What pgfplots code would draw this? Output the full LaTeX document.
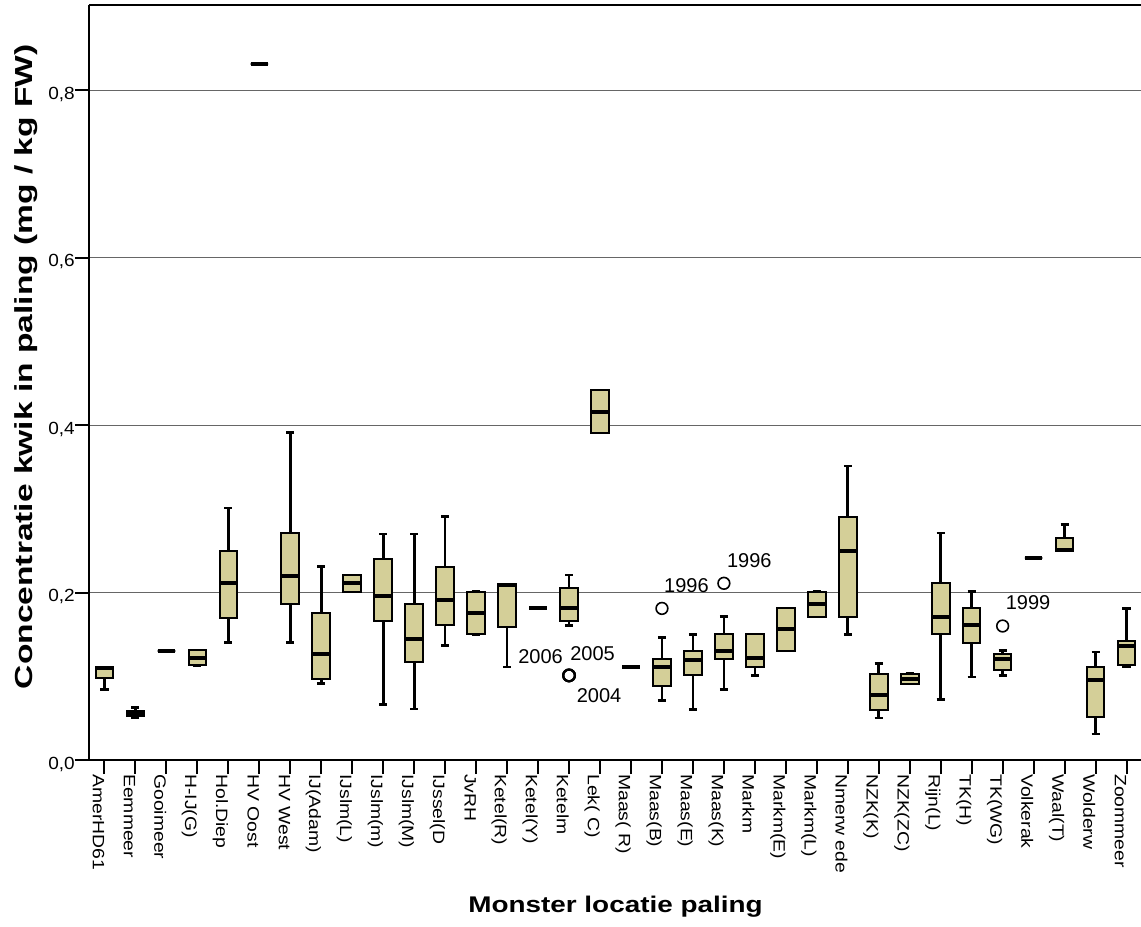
\documentclass[border=0pt]{standalone}
\usepackage{pgfplots}
\pgfplotsset{compat=1.18}
\usepgfplotslibrary{statistics}
\usepackage{fontspec}
\setmainfont{Liberation Sans}
\newfontfamily\yticksfont{Liberation Sans}[FakeStretch=1.08]
\newfontfamily\xticksfont{Liberation Sans}[FakeStretch=1.18]
\newfontfamily\ylabfont{Liberation Sans}[FakeStretch=1.36]
\newfontfamily\xlabfont{Liberation Sans}[FakeStretch=1.23]
\newfontfamily\annfont{Liberation Sans}
\definecolor{boxfill}{RGB}{212,207,152}

\begin{document}
\begin{tikzpicture}
\begin{axis}[
  at={(0,0)}, anchor=south west,
  scale only axis, width=789.75pt, height=566.25pt,
  xmin=-0.5, xmax=33.5, ymin=0, ymax=0.9015,
  clip=false,
  axis x line=bottom, axis y line=left,
  axis line style={-, line width=1.5pt, black},
  tick align=outside, major tick length=10.5pt,
  tick style={black, line width=1.5pt},
  ytick={0,0.2,0.4,0.6,0.8},
  ymajorgrids, major grid style={black!60, line width=0.75pt},
  yticklabel style={font=\yticksfont\fontsize{13.2}{14}\selectfont, anchor=east, inner sep=0pt, yshift=-3pt,
    /pgf/number format/.cd, fixed, fixed zerofill, precision=1, use comma, assume math mode=true},
  xtick={0,...,33},
  xticklabels={{AmerHD61},{Eemmeer},{Gooimeer},{H-IJ(G)},{Hol.Diep},{HV Oost},{HV West},{IJ(Adam)},{IJslm(L)},{IJslm(m)},{IJslm(M)},{IJssel(D},{JvRH},{Ketel(R)},{Ketel(Y)},{Ketelm},{Lek( C)},{Maas( R)},{Maas(B)},{Maas(E)},{Maas(K)},{Markm},{Markm(E)},{Markm(L)},{Nmerw ede},{NZK(K)},{NZK(ZC)},{Rijn(L)},{TK(H)},{TK(WG)},{Volkerak},{Waal(T)},{Wolderw},{Zoommeer}},
  xticklabel style={font=\xticksfont\fontsize{12.3}{13}\selectfont, rotate=-90, anchor=north west, inner sep=0pt},
  xlabel={Monster locatie paling},
  ylabel={Concentratie kwik in paling (mg / kg FW)},
  every axis x label/.style={at={(rel axis cs:0.5,0)}, anchor=base, yshift=-114pt, font=\xlabfont\bfseries\fontsize{17}{18}\selectfont},
  every axis y label/.style={at={(rel axis cs:0,0.521)}, rotate=90, anchor=base, yshift=42pt, font=\ylabfont\bfseries\fontsize{18.5}{19}\selectfont},
  boxplot/draw direction=y,
  boxplot/box extend=0.57,
  boxplot/whisker extend=0.26,
  boxplot/every box/.style={draw=black, line width=1.5pt, fill=boxfill},
  boxplot/every median/.style={draw=black, line width=3pt},
  boxplot/every whisker/.style={draw=black, line width=2pt},
]
\addplot[boxplot prepared={draw position=0, lower whisker=0.084, lower quartile=0.098, median=0.110, upper quartile=0.111, upper whisker=0.111}] coordinates {};
\addplot[boxplot prepared={draw position=1, lower whisker=0.051, lower quartile=0.052, median=0.056, upper quartile=0.058, upper whisker=0.063}] coordinates {};
\addplot[boxplot prepared={draw position=2, lower whisker=0.130, lower quartile=0.130, median=0.130, upper quartile=0.130, upper whisker=0.130}] coordinates {};
\addplot[boxplot prepared={draw position=3, lower whisker=0.113, lower quartile=0.113, median=0.122, upper quartile=0.131, upper whisker=0.131}] coordinates {};
\addplot[boxplot prepared={draw position=4, lower whisker=0.140, lower quartile=0.170, median=0.211, upper quartile=0.249, upper whisker=0.301}] coordinates {};
\addplot[boxplot prepared={draw position=5, lower whisker=0.831, lower quartile=0.831, median=0.831, upper quartile=0.831, upper whisker=0.831}] coordinates {};
\addplot[boxplot prepared={draw position=6, lower whisker=0.140, lower quartile=0.186, median=0.220, upper quartile=0.271, upper whisker=0.391}] coordinates {};
\addplot[boxplot prepared={draw position=7, lower whisker=0.091, lower quartile=0.097, median=0.126, upper quartile=0.175, upper whisker=0.231}] coordinates {};
\addplot[boxplot prepared={draw position=8, lower whisker=0.201, lower quartile=0.201, median=0.211, upper quartile=0.221, upper whisker=0.221}] coordinates {};
\addplot[boxplot prepared={draw position=9, lower whisker=0.066, lower quartile=0.166, median=0.196, upper quartile=0.240, upper whisker=0.270}] coordinates {};
\addplot[boxplot prepared={draw position=10, lower whisker=0.061, lower quartile=0.117, median=0.145, upper quartile=0.186, upper whisker=0.270}] coordinates {};
\addplot[boxplot prepared={draw position=11, lower whisker=0.137, lower quartile=0.161, median=0.191, upper quartile=0.231, upper whisker=0.291}] coordinates {};
\addplot[boxplot prepared={draw position=12, lower whisker=0.150, lower quartile=0.150, median=0.176, upper quartile=0.201, upper whisker=0.201}] coordinates {};
\addplot[boxplot prepared={draw position=13, lower whisker=0.111, lower quartile=0.159, median=0.209, upper quartile=0.210, upper whisker=0.210}] coordinates {};
\addplot[boxplot prepared={draw position=14, lower whisker=0.181, lower quartile=0.181, median=0.181, upper quartile=0.181, upper whisker=0.181}] coordinates {};
\addplot[boxplot prepared={draw position=15, lower whisker=0.161, lower quartile=0.166, median=0.181, upper quartile=0.205, upper whisker=0.221}, mark=o, mark size=4.4pt, mark options={line width=1.6pt, draw=black}] coordinates {(15,0.101) (15,0.101) (15,0.101)};
\addplot[boxplot prepared={draw position=16, lower whisker=0.391, lower quartile=0.391, median=0.416, upper quartile=0.442, upper whisker=0.442}] coordinates {};
\addplot[boxplot prepared={draw position=17, lower whisker=0.111, lower quartile=0.111, median=0.111, upper quartile=0.111, upper whisker=0.111}] coordinates {};
\addplot[boxplot prepared={draw position=18, lower whisker=0.071, lower quartile=0.088, median=0.111, upper quartile=0.121, upper whisker=0.146}, mark=o, mark size=4.4pt, mark options={line width=1.2pt, draw=black}] coordinates {(18,0.181)};
\addplot[boxplot prepared={draw position=19, lower whisker=0.060, lower quartile=0.101, median=0.120, upper quartile=0.130, upper whisker=0.150}] coordinates {};
\addplot[boxplot prepared={draw position=20, lower whisker=0.084, lower quartile=0.121, median=0.130, upper quartile=0.150, upper whisker=0.171}, mark=o, mark size=4.4pt, mark options={line width=1.2pt, draw=black}] coordinates {(20,0.211)};
\addplot[boxplot prepared={draw position=21, lower whisker=0.101, lower quartile=0.111, median=0.122, upper quartile=0.150, upper whisker=0.150}] coordinates {};
\addplot[boxplot prepared={draw position=22, lower whisker=0.130, lower quartile=0.130, median=0.156, upper quartile=0.181, upper whisker=0.181}] coordinates {};
\addplot[boxplot prepared={draw position=23, lower whisker=0.171, lower quartile=0.171, median=0.186, upper quartile=0.201, upper whisker=0.201}] coordinates {};
\addplot[boxplot prepared={draw position=24, lower whisker=0.150, lower quartile=0.171, median=0.250, upper quartile=0.290, upper whisker=0.351}] coordinates {};
\addplot[boxplot prepared={draw position=25, lower whisker=0.050, lower quartile=0.060, median=0.078, upper quartile=0.103, upper whisker=0.115}] coordinates {};
\addplot[boxplot prepared={draw position=26, lower whisker=0.091, lower quartile=0.091, median=0.097, upper quartile=0.103, upper whisker=0.103}] coordinates {};
\addplot[boxplot prepared={draw position=27, lower whisker=0.072, lower quartile=0.150, median=0.171, upper quartile=0.211, upper whisker=0.271}] coordinates {};
\addplot[boxplot prepared={draw position=28, lower whisker=0.099, lower quartile=0.140, median=0.161, upper quartile=0.181, upper whisker=0.201}] coordinates {};
\addplot[boxplot prepared={draw position=29, lower whisker=0.101, lower quartile=0.107, median=0.121, upper quartile=0.127, upper whisker=0.131}, mark=o, mark size=4.4pt, mark options={line width=1.2pt, draw=black}] coordinates {(29,0.160)};
\addplot[boxplot prepared={draw position=30, lower whisker=0.241, lower quartile=0.241, median=0.241, upper quartile=0.241, upper whisker=0.241}] coordinates {};
\addplot[boxplot prepared={draw position=31, lower whisker=0.250, lower quartile=0.250, median=0.251, upper quartile=0.265, upper whisker=0.281}] coordinates {};
\addplot[boxplot prepared={draw position=32, lower whisker=0.031, lower quartile=0.051, median=0.095, upper quartile=0.111, upper whisker=0.129}] coordinates {};
\addplot[boxplot prepared={draw position=33, lower whisker=0.111, lower quartile=0.113, median=0.136, upper quartile=0.142, upper whisker=0.181}] coordinates {};

\draw[line width=1.5pt, black] (rel axis cs:0,1) -- (rel axis cs:1,1);
\begin{scope}[every node/.style={font=\annfont\fontsize{15}{15}\selectfont, inner sep=0pt}]
\node at (axis cs:14.08,0.123) {2006};
\node at (axis cs:15.76,0.1266) {2005};
\node at (axis cs:15.97,0.0764) {2004};
\node at (axis cs:18.79,0.2084) {1996};
\node at (axis cs:20.82,0.2376) {1996};
\node at (axis cs:29.82,0.188) {1999};
\end{scope}
\end{axis}
\pgfresetboundingbox
\useasboundingbox (-66.75pt,-124.5pt) rectangle (789pt,570pt);
\end{tikzpicture}
\end{document}
